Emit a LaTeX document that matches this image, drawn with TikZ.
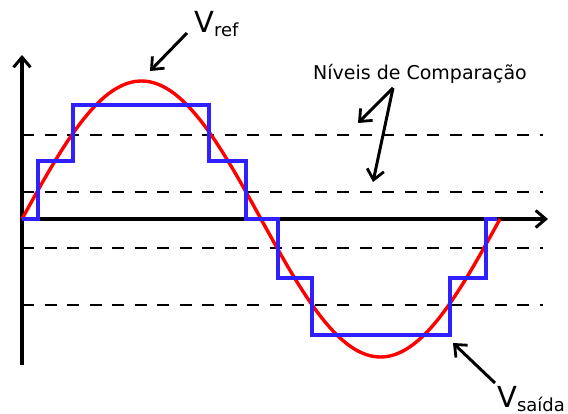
\documentclass[tikz,border=0pt]{standalone}
\usepackage{fontspec}
\setmainfont{DejaVu Sans}
\usetikzlibrary{arrows.meta}
\definecolor{stepblue}{RGB}{48,32,255}
\definecolor{sinered}{RGB}{255,0,0}
\tikzset{
  axisline/.style={line width=3.6pt,-{Straight Barb[length=10pt,width=17pt,line width=3pt]}},
  annot/.style={line width=3pt,-{Straight Barb[length=10pt,width=17pt,line width=2.8pt]}},
  levelline/.style={line width=2pt,dash pattern=on 12pt off 10.5pt},
  sineline/.style={sinered,line width=3.4pt,line join=round},
  stairline/.style={stepblue,line width=3.4pt,line join=miter},
  lbl/.style={inner sep=0pt,anchor=base west}
}
\begin{document}
\begin{tikzpicture}[x=1pt,y=-1pt]
\useasboundingbox (0,0) rectangle (568,414);
% dashed comparison levels
\coordinate (d1a) at (22,135); \coordinate (d1b) at (543,135);
\coordinate (d2a) at (22,192); \coordinate (d2b) at (543,192);
\coordinate (d3a) at (22,248); \coordinate (d3b) at (543,248);
\coordinate (d4a) at (22,305); \coordinate (d4b) at (543,305);
\draw[levelline] (d1a) -- (d1b);
\draw[levelline] (d2a) -- (d2b);
\draw[levelline] (d3a) -- (d3b);
\draw[levelline] (d4a) -- (d4b);
% axes
\coordinate (o) at (22,219);
\coordinate (ybot) at (22,365);
\coordinate (ytop) at (22,55);
\coordinate (xend) at (548,219);
\draw[axisline] (ybot) -- (ytop);
\draw[axisline] (o) -- (xend);
% reference sine
\draw[sineline] plot[domain=0:360,samples=91,smooth] ({22+\x/360*478},{219-138*sin(\x)});
% staircase output
\draw[stairline] (22,219) -- (38,219) -- (38,161) -- (73,161) -- (73,105) -- (209,105)
  -- (209,161) -- (246,161) -- (246,219) -- (278,219) -- (278,278) -- (312,278)
  -- (312,335) -- (450,335) -- (450,278) -- (486,278) -- (486,219) -- (497,219);
% labels
\node[lbl] (vref) at (194,33) {\fontsize{29}{30}\selectfont V\raisebox{-4pt}{\fontsize{18}{20}\selectfont ref}};
\node[lbl] (vsai) at (497,407) {\fontsize{29}{30}\selectfont V\raisebox{-4pt}{\fontsize{18}{20}\selectfont saída}};
\node[inner sep=0pt] (niv) at (420,74) {\fontsize{19}{20}\selectfont Níveis de Comparação};
% annotation arrows
\coordinate (vrefTail) at (187,33);
\coordinate (vrefTip) at (150,71);
\draw[annot] (vrefTail) -- (vrefTip);
\coordinate (vsaiTail) at (495,383);
\coordinate (vsaiTip) at (453,343);
\draw[annot] (vsaiTail) -- (vsaiTip);
\coordinate (nivTail) at (393,88);
\coordinate (nivTipA) at (358,123);
\coordinate (nivTipB) at (373,182);
\draw[annot] (nivTail) -- (nivTipA);
\draw[annot] (nivTail) -- (nivTipB);
\end{tikzpicture}
\end{document}
